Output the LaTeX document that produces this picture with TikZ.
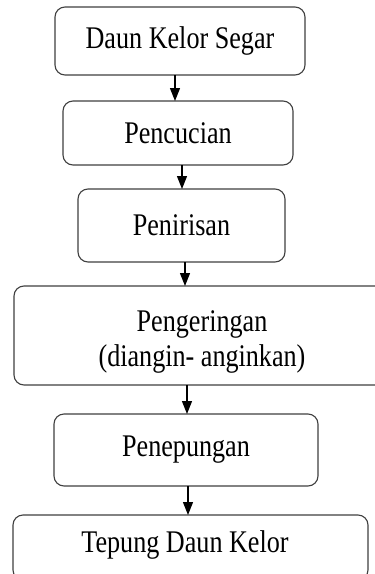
\documentclass[tikz,border=0pt]{standalone}
\usepackage{fontspec}
\setmainfont{Liberation Serif}[FakeStretch=0.83]
\usetikzlibrary{arrows.meta}
\begin{document}
\begin{tikzpicture}[x=1pt,y=-1pt,
  box/.style={draw=black!75, line width=1.1pt, rounded corners=10pt, inner sep=0pt},
  arr/.style={draw=black, line width=1.4pt, -{Triangle[length=13pt,width=10pt]}},
  lbl/.style={font=\fontsize{31.5pt}{35pt}\selectfont, align=center, inner sep=0pt}]
\clip (0,0) rectangle (375,574);
\fill[white] (0,0) rectangle (375,574);
% boxes
\draw[box] (55,7) rectangle (305,75);
\draw[box] (63,101) rectangle (293,165);
\draw[box] (78,189) rectangle (285,262);
\draw[box] (14,286) rectangle (392,385);
\draw[box] (54,414) rectangle (318,486);
\draw[box] (13,515) rectangle (368,580);
% named nodes (text)
\node[lbl, minimum width=250pt, minimum height=68pt] (b1) at (180,41) {Daun Kelor Segar};
\node[lbl, minimum width=230pt, minimum height=64pt] (b2) at (178,133) {Pencucian};
\node[lbl, minimum width=207pt, minimum height=73pt] (b3) at (181.5,225.5) {Penirisan};
\node[lbl, minimum width=378pt, minimum height=99pt] (b4) at (202,342) {Pengeringan\\(diangin- anginkan)};
\node[lbl, minimum width=264pt, minimum height=72pt] (b5) at (186,450) {Penepungan};
\node[lbl, minimum width=355pt, minimum height=58pt] (b6) at (185,545) {Tepung Daun Kelor};
% arrow x positions
\coordinate (x1) at (175,0);
\coordinate (x2) at (182,0);
\coordinate (x3) at (185,0);
\coordinate (x4) at (187,0);
\coordinate (x5) at (188,0);
\coordinate (t1) at (0,75);
\coordinate (h1) at (0,101);
\coordinate (t2) at (0,165);
\coordinate (h2) at (0,189);
\coordinate (t3) at (0,262);
\coordinate (h3) at (0,286);
\coordinate (t4) at (0,385);
\coordinate (h4) at (0,414);
\coordinate (t5) at (0,486);
\coordinate (h5) at (0,515);
\draw[arr] (x1 |- t1) -- (x1 |- h1);
\draw[arr] (x2 |- t2) -- (x2 |- h2);
\draw[arr] (x3 |- t3) -- (x3 |- h3);
\draw[arr] (x4 |- t4) -- (x4 |- h4);
\draw[arr] (x5 |- t5) -- (x5 |- h5);
\end{tikzpicture}
\end{document}
